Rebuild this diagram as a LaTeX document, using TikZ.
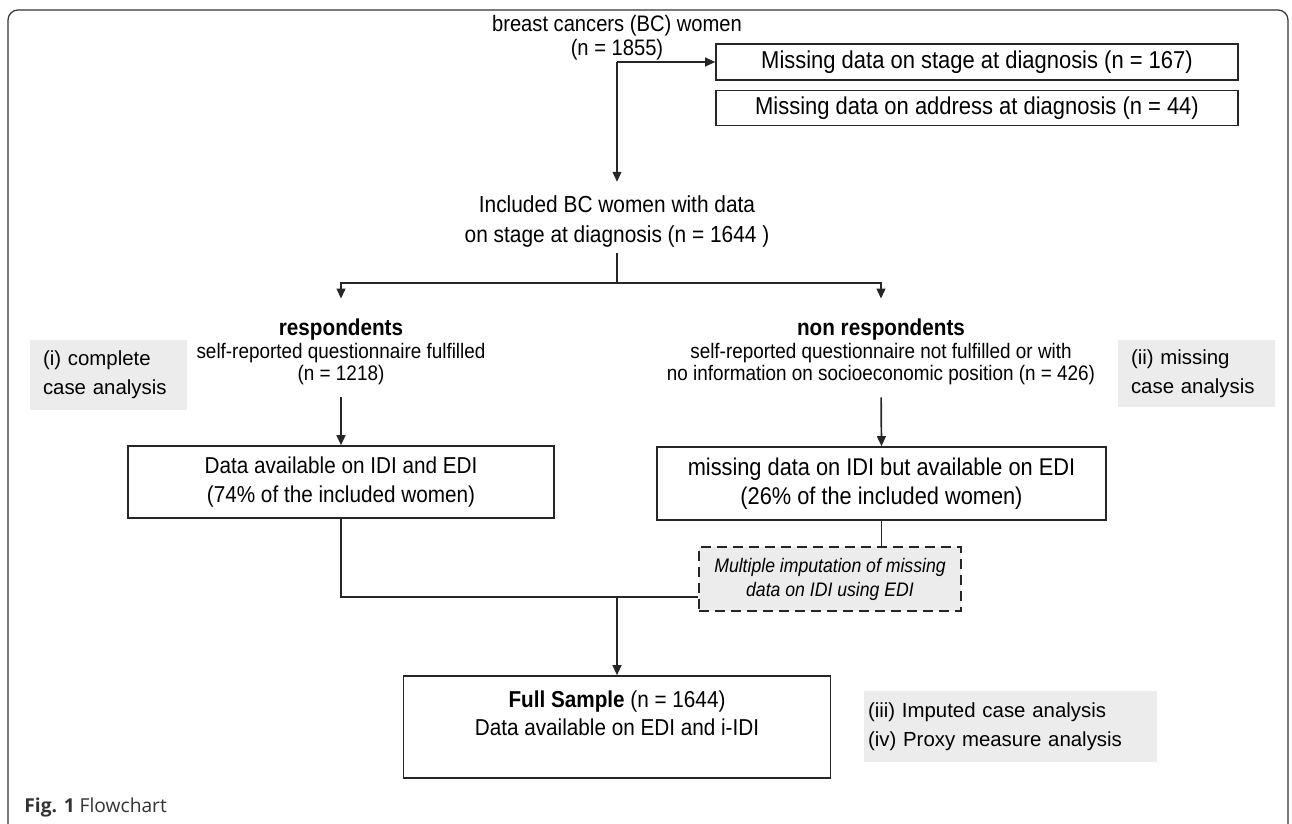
\documentclass[tikz,border=0pt]{standalone}
\usepackage{fontspec}
\setmainfont{Liberation Sans}
\newfontfamily\flowfont[FakeStretch=0.9]{Liberation Sans}
\newfontfamily\notefont{Liberation Sans}
\newfontfamily\capfont{Open Sans}
\usetikzlibrary{arrows.meta,positioning}
\tikzset{
  fbox/.style={rectangle, draw=black!85, line width=0.8pt, fill=white,
               align=center, inner sep=0pt,
               font=\flowfont\fontsize{11.5}{14.5}\selectfont},
  ftext/.style={align=center, inner sep=0pt,
                font=\flowfont\fontsize{11.2}{12}\selectfont},
  fdash/.style={fbox, dash pattern=on 5pt off 3pt, fill=gray!15,
                font=\flowfont\itshape\fontsize{9.8}{12}\selectfont},
  fnote/.style={rectangle, fill=gray!15, align=left,
                inner ysep=0pt, inner xsep=6.5pt,
                font=\notefont\fontsize{10.2}{14.5}\selectfont},
  farr/.style={-{Triangle[length=5pt,width=4.4pt]}, line width=0.85pt, black!85},
  fline/.style={line width=0.85pt, black!85}
}
\begin{document}
\begin{tikzpicture}[x=0.5pt, y=-0.5pt]
\useasboundingbox (0,0) rectangle (1292,824);
\clip (0,0) rectangle (1292,824);
\draw[rounded corners=5pt, line width=0.6pt, black!80] (8,10) rectangle (1288,840);
% top of the flow
\node[ftext] (bc) at (617,38) {breast cancers (BC) women\\(n = 1855)};
\node[fbox, minimum width=261pt, minimum height=18pt, font=\flowfont\fontsize{12.2}{14.5}\selectfont]
  (miss1) at (977,62) {Missing data on stage at diagnosis (n = 167)};
\node[fbox, minimum width=261pt, minimum height=17.5pt, below=4.5pt of miss1,
      font=\flowfont\fontsize{12.2}{14.5}\selectfont]
  (miss2) {Missing data on address at diagnosis (n = 44)};
\node[ftext, font=\flowfont\fontsize{11.6}{15}\selectfont]
  (incl) at (617,222) {Included BC women with data\\on stage at diagnosis (n = 1644 )};
% the two groups
\node[ftext, font=\flowfont\fontsize{10.5}{11.25}\selectfont]
  (resp) at (341,352) {{\bfseries\fontsize{11.5}{11.25}\selectfont respondents}\\
  self-reported questionnaire fulfilled\\(n = 1218)};
\node[ftext, font=\flowfont\fontsize{10.5}{11.25}\selectfont]
  (nonresp) at (881,352) {{\bfseries\fontsize{11.5}{11.25}\selectfont non respondents}\\
  self-reported questionnaire not fulfilled or with\\
  no information on socioeconomic position (n = 426)};
\node[fnote, text width=65.5pt, minimum height=35pt]
  (cca) at (108.5,375) {(i) complete\\case analysis};
\node[fnote, text width=65.5pt, minimum height=33.5pt]
  (mca) at (1196.5,373.5) {(ii) missing\\case analysis};
\node[fbox, minimum width=213pt, minimum height=36pt]
  (avail) at (341,482) {Data available on IDI and EDI\\(74\% of the included women)};
\node[fbox, minimum width=224.5pt, minimum height=36.5pt, font=\flowfont\fontsize{12.1}{14.5}\selectfont]
  (missedi) at (881.5,483.5) {missing data on IDI but available on EDI\\(26\% of the included women)};
\node[fdash, minimum width=131pt, minimum height=32pt]
  (mi) at (830,579) {Multiple imputation of missing\\data on IDI using EDI};
% bottom
\node[fbox, minimum width=213.5pt, minimum height=51pt, font=\flowfont\fontsize{11.5}{14}\selectfont]
  (full) at (617,727) {{\bfseries Full Sample} (n = 1644)\\Data available on EDI and i-IDI\\\mbox{}};
\node[fnote, inner xsep=2pt, text width=142.5pt, minimum height=35.5pt]
  (ica) at (1010.5,726.5) {(iii) Imputed case analysis\\(iv) Proxy measure analysis};
\node[anchor=west, inner sep=0pt, text=black!80, font=\capfont\fontsize{9.6}{11}\selectfont]
  (cap) at (24,808) {\textbf{Fig. 1} Flowchart};
% connectors
\coordinate (branch) at (bc.south |- miss1.west);
\coordinate (split) at (incl.south |- 0,283);
\coordinate (join) at (full.north |- 0,597);
\draw[farr] (branch) -- (miss1.west);
\draw[farr, shorten >=7pt] (branch) -- (incl.north);
\draw[fline, shorten <=2.5pt] (incl.south) -- (split);
\draw[farr, shorten >=10pt] (split) -| (resp.north);
\draw[farr, shorten >=10pt] (split) -| (nonresp.north);
\draw[farr, shorten <=6pt] (resp.south) -- (avail.north);
\draw[farr, shorten <=6pt] (nonresp.south) -- (missedi.north);
\draw[fline] (avail.south) |- (join);
\draw[fline] (missedi.south) -- (missedi.south |- mi.north);
\draw[fline] (mi.west |- join) -- (join);
\draw[farr] (join) -- (full.north);
\end{tikzpicture}
\end{document}
